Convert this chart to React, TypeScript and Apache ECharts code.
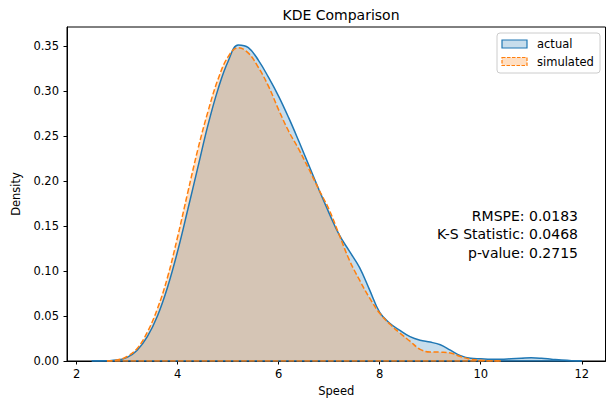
import React, { useEffect, useRef } from "react";
import * as echarts from "echarts";

// Kernel density estimates of speed: observed vs simulated
const actualSpeed = [
  2.3, 2.6, 2.8, 3.0, 3.2, 3.4, 3.6, 3.8, 4.0, 4.2, 4.4, 4.6, 4.8, 5.0, 5.2, 5.4, 5.6, 5.8,
  6.0, 6.2, 6.4, 6.6, 6.8, 7.0, 7.2, 7.4, 7.6, 7.8, 8.0, 8.2, 8.4, 8.6, 8.8, 9.0, 9.2, 9.4, 9.6,
  9.8, 10.0, 10.2, 10.4, 10.6, 10.8, 11.0, 11.2, 11.4, 11.6, 11.8, 12.0,
];
const actualDensity = [
  0.0, 0.0003, 0.001, 0.004, 0.012, 0.027, 0.05, 0.082, 0.122, 0.168, 0.215, 0.262, 0.302, 0.333,
  0.351, 0.348, 0.334, 0.315, 0.294, 0.27, 0.244, 0.217, 0.19, 0.164, 0.14, 0.122, 0.104,
  0.079, 0.054, 0.042, 0.034, 0.027, 0.023, 0.021, 0.018, 0.012, 0.006, 0.003, 0.0025, 0.002,
  0.002, 0.0025, 0.003, 0.0035, 0.003, 0.002, 0.001, 0.0003, 0.0,
];

const simulatedSpeed = [
  2.6, 2.8, 3.0, 3.2, 3.4, 3.6, 3.8, 4.0, 4.2, 4.4, 4.6, 4.8, 5.0, 5.2, 5.4, 5.6, 5.8, 6.0,
  6.2, 6.4, 6.6, 6.8, 7.0, 7.2, 7.4, 7.6, 7.8, 8.0, 8.2, 8.4, 8.6, 8.8, 9.0, 9.2, 9.4, 9.6, 9.8,
  10.0, 10.2, 10.4,
];
const simulatedDensity = [
  0.0, 0.001, 0.005, 0.014, 0.032, 0.058, 0.093, 0.138, 0.187, 0.235, 0.277, 0.313, 0.338, 0.348,
  0.342, 0.326, 0.305, 0.279, 0.255, 0.235, 0.213, 0.19, 0.168, 0.14, 0.112, 0.09, 0.07,
  0.053, 0.041, 0.031, 0.022, 0.013, 0.01, 0.0098, 0.009, 0.005, 0.002, 0.0008, 0.0002, 0.0,
];

const xTicks = [2, 4, 6, 8, 10, 12];
const yTicks = [0, 0.05, 0.1, 0.15, 0.2, 0.25, 0.3, 0.35];

const statLines = ["RMSPE: 0.0183", "K-S Statistic: 0.0468", "p-value: 0.2715"];

const FONT = "DejaVu Sans";
const BLUE = "#1f77b4";
const ORANGE = "#ff7f0e";
const BLUE_FILL = "rgba(31,119,180,0.25)";
const ORANGE_FILL = "rgba(255,127,14,0.25)";
const DASH = [5.5, 2.4];

const pairs = (xs: number[], ys: number[]) => xs.map((x, i) => [x, ys[i]]);

export default function App() {
  const ref = useRef<HTMLDivElement>(null);

  useEffect(() => {
    if (!ref.current) return;
    const chart = echarts.init(ref.current, null, { renderer: "svg" });

    const actual = pairs(actualSpeed, actualDensity);
    const simulated = pairs(simulatedSpeed, simulatedDensity);

    chart.setOption({
      animation: false,
      backgroundColor: "#fff",
      title: {
        text: "KDE Comparison",
        left: 336,
        top: 3,
        textAlign: "center",
        textStyle: { fontFamily: FONT, fontSize: 14, fontWeight: "normal", color: "#000" },
      },
      grid: {
        left: 67,
        right: 4.5,
        top: 27,
        bottom: 42,
        show: true,
        borderColor: "#000",
        borderWidth: 1,
        backgroundColor: "transparent",
      },
      xAxis: {
        type: "value",
        min: 1.81,
        max: 12.47,
        name: "Speed",
        nameLocation: "middle",
        nameGap: 23,
        nameTextStyle: { fontFamily: FONT, fontSize: 11.5, color: "#000" },
        axisLine: { show: true, onZero: false, lineStyle: { color: "#000", width: 1 } },
        axisTick: { show: true, length: 3.5, customValues: xTicks, lineStyle: { color: "#000" } },
        axisLabel: {
          customValues: xTicks,
          margin: 7,
          fontFamily: FONT,
          fontSize: 11.5,
          color: "#000",
          formatter: (v: number) => String(v),
        },
        splitLine: { show: false },
      },
      yAxis: {
        type: "value",
        min: 0,
        max: 0.371,
        name: "Density",
        nameLocation: "middle",
        nameGap: 41,
        nameTextStyle: { fontFamily: FONT, fontSize: 11.5, color: "#000" },
        axisLine: { show: true, lineStyle: { color: "#000", width: 1 } },
        axisTick: { show: true, length: 3.5, customValues: yTicks, lineStyle: { color: "#000" } },
        axisLabel: {
          customValues: yTicks,
          margin: 8,
          fontFamily: FONT,
          fontSize: 11.5,
          color: "#000",
          formatter: (v: number) => v.toFixed(2),
        },
        splitLine: { show: false },
      },
      series: [
        {
          name: "actual",
          type: "line",
          data: actual,
          smooth: 0.4,
          showSymbol: false,
          lineStyle: { color: BLUE, width: 1.5 },
          itemStyle: { color: BLUE },
          areaStyle: { color: BLUE_FILL, opacity: 1, origin: "start" },
        },
        {
          name: "actual-base",
          type: "line",
          data: [
            [actualSpeed[0], 0],
            [actualSpeed[actualSpeed.length - 1], 0],
          ],
          showSymbol: false,
          lineStyle: { color: BLUE, width: 1.5 },
        },
        {
          name: "simulated",
          type: "line",
          data: simulated,
          smooth: 0.4,
          showSymbol: false,
          lineStyle: { color: ORANGE, width: 1.5, type: DASH },
          itemStyle: { color: ORANGE },
          areaStyle: { color: ORANGE_FILL, opacity: 1, origin: "start" },
        },
        {
          name: "simulated-base",
          type: "line",
          data: [
            [simulatedSpeed[0], 0],
            [simulatedSpeed[simulatedSpeed.length - 1], 0],
          ],
          showSymbol: false,
          lineStyle: { color: ORANGE, width: 1.5, type: DASH },
        },
      ],
      graphic: [
        // legend box
        {
          type: "rect",
          shape: { x: 497, y: 33, width: 103, height: 40, r: 3 },
          style: { fill: "rgba(255,255,255,0.8)", stroke: "#cccccc", lineWidth: 1 },
          z: 10,
        },
        {
          type: "rect",
          shape: { x: 502, y: 40, width: 25, height: 8 },
          style: { fill: BLUE_FILL, stroke: BLUE, lineWidth: 1.2 },
          z: 11,
        },
        {
          type: "text",
          x: 537,
          y: 44,
          style: {
            text: "actual",
            fontFamily: FONT,
            fontSize: 11.5,
            fill: "#000",
            textVerticalAlign: "middle",
          },
          z: 11,
        },
        {
          type: "rect",
          shape: { x: 502, y: 57.5, width: 25, height: 8 },
          style: { fill: ORANGE_FILL, stroke: ORANGE, lineWidth: 1.2, lineDash: [3.5, 1.5] },
          z: 11,
        },
        {
          type: "text",
          x: 537,
          y: 61.5,
          style: {
            text: "simulated",
            fontFamily: FONT,
            fontSize: 11.5,
            fill: "#000",
            textVerticalAlign: "middle",
          },
          z: 11,
        },
        // summary statistics
        ...statLines.map((line, i) => ({
          type: "text",
          x: 578,
          y: 215.7 + i * 18.5,
          style: {
            text: line,
            fontFamily: FONT,
            fontSize: 14,
            fill: "#000",
            textAlign: "right",
            textVerticalAlign: "middle",
          },
          z: 11,
        })),
      ],
    });

    return () => chart.dispose();
  }, []);

  return (
    <div
      ref={ref}
      style={{ position: "fixed", left: 0, top: 0, width: 610, height: 403, background: "#fff" }}
    />
  );
}
